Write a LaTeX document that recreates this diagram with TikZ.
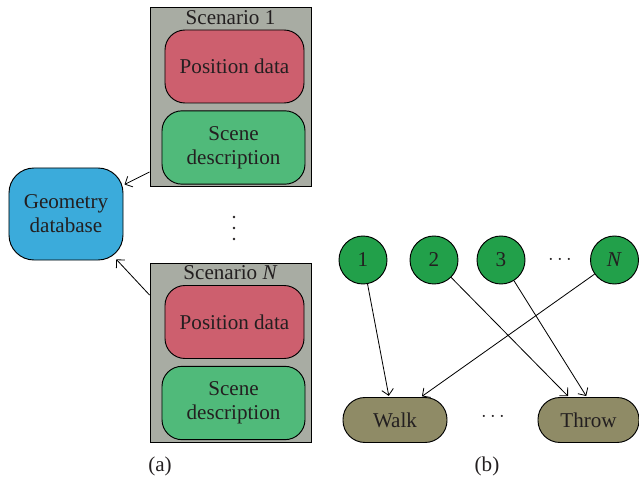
\documentclass[tikz,border=0pt]{standalone}
\usepackage{fontspec}
\usetikzlibrary{arrows.meta}
\setmainfont{Liberation Serif}
\definecolor{scengray}{HTML}{A8ACA3}
\definecolor{posred}{HTML}{CD5F6E}
\definecolor{scenegreen}{HTML}{50BA7A}
\definecolor{geoblue}{HTML}{3BABDB}
\definecolor{actgreen}{HTML}{22A04A}
\definecolor{olive}{HTML}{8F8B66}
\definecolor{ink}{HTML}{231F20}
\begin{document}
\begin{tikzpicture}[x=0.03cm,y=-0.03cm,
  every node/.style={font=\fontsize{18}{20.5}\selectfont, text=ink},
  box/.style={draw=black, line width=0.8pt, align=center, inner sep=0pt},
  scenbox/.style={box, fill=scengray, rounded corners=0pt, minimum width=4.83cm, minimum height=5.37cm},
  posbox/.style={box, fill=posred, rounded corners=0.6cm, minimum width=4.17cm, minimum height=2.19cm},
  scenebox/.style={box, fill=scenegreen, rounded corners=0.6cm, minimum width=4.29cm, minimum height=2.2cm},
  actor/.style={box, circle, fill=actgreen, minimum size=1.44cm},
  action/.style={box, fill=olive, rounded corners=0.66cm, minimum height=1.35cm},
  link/.style={draw=black, line width=0.7pt, -{Straight Barb[length=5pt,width=10pt]}, shorten >=1pt}]
\useasboundingbox (0,0) rectangle (639,485);
% (a)
\node [box, fill=geoblue, rounded corners=0.75cm, minimum width=3.42cm, minimum height=2.76cm] (geo) at (66,214) {Geometry\\database};
\node [scenbox] (sc1) at (230.5,97) {};
\node [anchor=north, inner sep=2.5pt] (sc1lbl) at (sc1.north) {Scenario 1};
\node [posbox] (pos1) at (234.5,66.5) {Position data};
\node [scenebox] (scene1) at (233.5,147.5) {Scene\\description};
\foreach \y in {217,228,239} \fill [ink] (234,\y) circle (1.3);
\node [scenbox] (scN) at (230.5,352.5) {};
\node [anchor=north, inner sep=2.5pt] (scNlbl) at (scN.north) {Scenario \textit{N}};
\node [posbox] (posN) at (234.5,322) {Position data};
\node [scenebox] (sceneN) at (233.5,403) {Scene\\description};
\draw [link] ([yshift=-2.25cm]sc1.west) -- ([yshift=0.87cm]geo.east);
\draw [link] ([yshift=1.725cm]scN.west) -- ([shift={(-0.24cm,0.06cm)}]geo.south east);
\node (cap a) at (160,466) {(a)};
% (b)
\node [actor] (c1) at (363,260) {1};
\node [actor] (c2) at (434,260) {2};
\node [actor] (c3) at (501,260) {3};
\node (hdots1) at (560,260) {$\cdots$};
\node [actor] (cN) at (614.5,260) {\textit{N}};
\node [action, minimum width=3.12cm] (walk) at (395,420) {Walk};
\node (hdots2) at (493,417) {$\cdots$};
\node [action, minimum width=3.03cm] (throw) at (588.5,420) {Throw};
\draw [link] (c1) -- ([xshift=-0.18cm]walk.north);
\draw [link] (cN) -- ([xshift=0.78cm]walk.north);
\draw [link] (c2) -- ([xshift=-0.59cm]throw.north);
\draw [link] (c3) -- ([xshift=-0.05cm]throw.north);
\node (cap b) at (487,466) {(b)};
\end{tikzpicture}
\end{document}
